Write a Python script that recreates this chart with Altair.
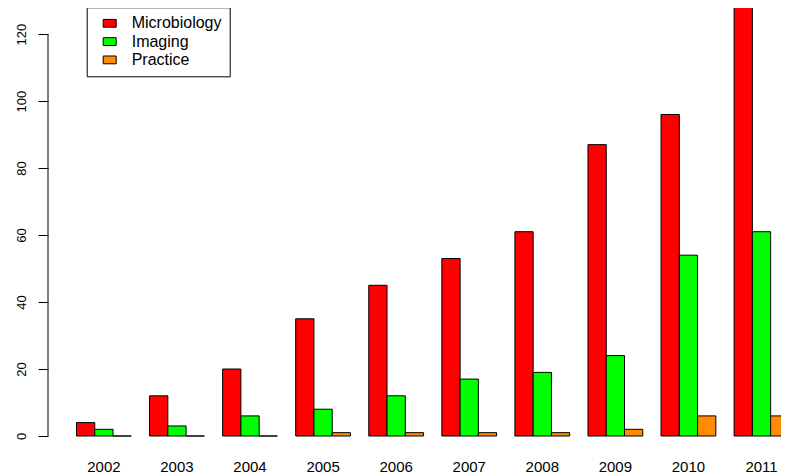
import altair as alt
import pandas as pd

years = ["2002", "2003", "2004", "2005", "2006", "2007", "2008", "2009", "2010", "2011"]
series = ["Microbiology", "Imaging", "Practice"]
microbiology = [4, 12, 20, 35, 45, 53, 61, 87, 96, 135]
imaging = [2, 3, 6, 8, 12, 17, 19, 24, 54, 61]
practice = [0, 0, 0, 1, 1, 1, 1, 2, 6, 6]
colors = ["#FF0000", "#00FF00", "#FF8C00"]
y_ticks = [0, 20, 40, 60, 80, 100, 120]

rows = []
for name, vals in zip(series, [microbiology, imaging, practice]):
    for y, v in zip(years, vals):
        rows.append({"year": y, "series": name, "value": v})
df = pd.DataFrame(rows)

FONT = "Liberation Sans"
W, H = 733, 428

bars = alt.Chart(df).mark_bar(stroke="black", strokeWidth=1, opacity=1).encode(
    x=alt.X("year:N", sort=years,
            scale=alt.Scale(range=[0, 769.4], paddingInner=0.25, paddingOuter=0.39),
            axis=alt.Axis(title=None, domain=False, ticks=False, tickSize=0, labelAngle=0,
                          labelPadding=23.5, labelFontSize=15, labelFont=FONT,
                          labelColor="black", labelOverlap=False)),
    xOffset=alt.XOffset("series:N", sort=series,
                        scale=alt.Scale(domain=series, paddingInner=0, paddingOuter=0)),
    y=alt.Y("value:Q", scale=alt.Scale(domain=[0, 127.8], nice=False, zero=True),
            axis=alt.Axis(title=None, values=y_ticks, grid=False, domain=False,
                          tickSize=10, tickColor="black", tickWidth=1,
                          labelAngle=270, labelAlign="center", labelBaseline="alphabetic",
                          labelPadding=13, labelFontSize=13, labelFont=FONT,
                          labelColor="black", labelOverlap=False, labelFlush=False)),
    color=alt.Color("series:N", sort=series,
                    scale=alt.Scale(domain=series, range=colors),
                    legend=alt.Legend(title=None, orient="none", legendX=38.7, legendY=-0.7,
                                      strokeColor="black", fillColor="white", padding=8,
                                      symbolType="M-1,-0.6L1,-0.6L1,0.6L-1,0.6Z",
                                      symbolSize=169, symbolStrokeColor="black",
                                      symbolStrokeWidth=1, symbolOpacity=1,
                                      symbolOffset=7, labelOffset=14,
                                      labelFontSize=16, labelFont=FONT, labelColor="black",
                                      rowPadding=2.3)),
)

axis_line = alt.Chart(pd.DataFrame({"a": [0]})).mark_rule(color="black", strokeWidth=1).encode(
    x=alt.value(0), y=alt.datum(y_ticks[0]), y2=alt.datum(y_ticks[-1])
)

chart = alt.layer(bars, axis_line).properties(
    width=W, height=H,
    autosize=alt.AutoSizeParams(type="none"),
    padding={"left": 40, "top": 0, "right": 0, "bottom": 40},
).configure_view(stroke=None)

chart.save("out.html", embed_options={"renderer": "svg", "actions": False})
